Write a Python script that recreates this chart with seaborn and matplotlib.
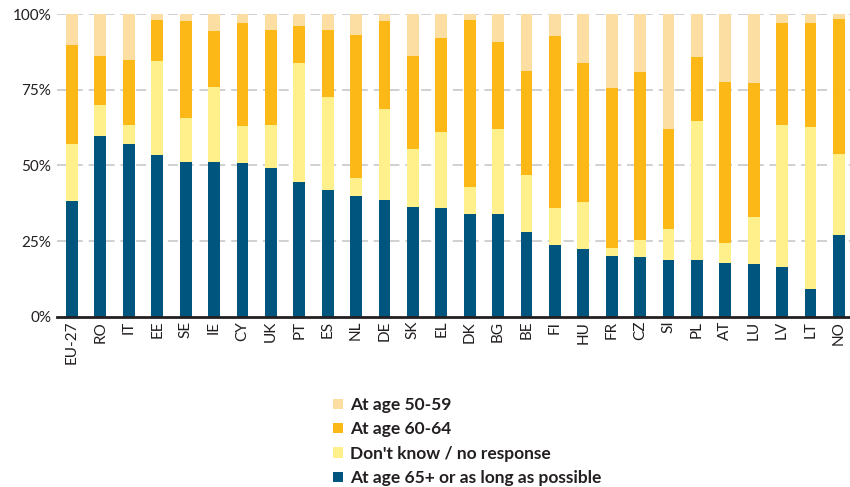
import matplotlib
matplotlib.use("Agg")
import matplotlib.pyplot as plt
import seaborn as sns
import numpy as np
import pandas as pd
from matplotlib.patches import Patch
from matplotlib.ticker import FixedLocator

countries = ["EU-27", "RO", "IT", "EE", "SE", "IE", "CY", "UK", "PT", "ES", "NL", "DE",
             "SK", "EL", "DK", "BG", "BE", "FI", "HU", "FR", "CZ", "SI", "PL", "AT",
             "LU", "LV", "LT", "NO"]
age65 = [38.2, 59.7, 57.0, 53.4, 51.1, 51.1, 50.8, 49.1, 44.5, 41.9, 39.9, 38.6,
         36.2, 35.9, 33.9, 33.9, 28.0, 23.7, 22.4, 20.0, 19.7, 18.7, 18.7, 17.7,
         17.4, 16.4, 9.1, 27.0]
dont_know = [18.8, 10.2, 6.3, 31.1, 14.5, 24.8, 12.2, 14.2, 39.3, 30.7, 5.9, 30.0,
             19.2, 25.1, 8.9, 28.1, 18.8, 12.2, 15.5, 2.7, 5.6, 10.3, 45.9, 6.6,
             15.5, 46.9, 53.6, 26.8]
age60_64 = [32.8, 16.2, 21.5, 13.5, 32.1, 18.5, 34.0, 31.4, 12.2, 22.1, 47.3, 29.1,
            30.7, 31.1, 55.2, 28.8, 34.4, 56.8, 45.9, 52.9, 55.5, 33.0, 21.2, 53.3,
            44.4, 33.7, 34.3, 44.5]
age50_59 = [10.2, 13.9, 15.2, 2.0, 2.3, 5.6, 3.0, 5.3, 4.0, 5.3, 6.9, 2.3,
            13.9, 7.9, 2.0, 9.2, 18.8, 7.3, 16.2, 24.4, 19.2, 38.0, 14.2, 22.4,
            22.7, 3.0, 3.0, 1.7]
series_labels = ["At age 50-59", "At age 60-64", "Don't know / no response",
                 "At age 65+ or as long as possible"]
ytick_labels = ["0%", "25%", "50%", "75%", "100%"]

colors = {
    "At age 50-59": "#fddea2",
    "At age 60-64": "#fbb817",
    "Don't know / no response": "#fff08c",
    "At age 65+ or as long as possible": "#00557f",
}

font = "Lato"
sns.set_theme(style="white")
plt.rcParams["font.family"] = [font, "DejaVu Sans"]

df = pd.DataFrame({
    "country": countries,
    "a65": age65,
    "dk": dont_know,
    "a60": age60_64,
    "a50": age50_59,
})
df["c_dark"] = df["a65"]
df["c_dk"] = df["a65"] + df["dk"]
df["c_60"] = df["c_dk"] + df["a60"]
df["c_50"] = df["c_60"] + df["a50"]

fig = plt.figure(figsize=(8.5, 4.87), dpi=100)
ax = fig.add_axes([57 / 850, 1 - 316.7 / 487, 1 - 57 / 850, (316.7 - 14) / 487])

layers = [("c_50", series_labels[0]), ("c_60", series_labels[1]),
          ("c_dk", series_labels[2]), ("c_dark", series_labels[3])]
for col, lab in layers:
    sns.barplot(data=df, x="country", y=col, color=colors[lab], saturation=1,
                width=0.42, ax=ax, linewidth=0, zorder=3)

ax.set_xlim(-0.53, len(countries) - 1 + 0.39)
ax.set_ylim(0, 100)
ax.set_yticks([0, 25, 50, 75, 100])
ax.set_yticklabels(ytick_labels, fontsize=11, color="#231f20")
ax.set_xlabel("")
ax.set_ylabel("")
ax.set_xticks(range(len(countries)))
ax.set_xticklabels(countries, rotation=90, fontsize=11, color="#231f20")

for y in [25, 50, 75, 100]:
    ax.axhline(y, color="#c8c8c8", lw=1.2, dashes=(6, 3.5), zorder=1)

for s in ["top", "right", "left"]:
    ax.spines[s].set_visible(False)
ax.spines["bottom"].set_color("#231f20")
ax.spines["bottom"].set_linewidth(2)
ax.spines["bottom"].set_zorder(5)

ax.tick_params(axis="x", which="major", length=0, pad=3)
ax.tick_params(axis="y", which="major", length=0, pad=4)
ax.xaxis.set_minor_locator(FixedLocator(np.arange(-0.5, len(countries), 1.0)))
ax.tick_params(axis="x", which="minor", length=4, width=1.5, color="#231f20", direction="out")
ax.grid(False)

handles = [Patch(facecolor=colors[l], edgecolor="none") for l in series_labels]
leg = fig.legend(handles, series_labels, loc="upper left",
                 bbox_to_anchor=(333 / 850, 1 - 397 / 487), frameon=False,
                 prop={"family": [font, "DejaVu Sans"], "weight": "bold", "size": 12.5},
                 handlelength=0.55, handleheight=0.55, handletextpad=0.45,
                 labelspacing=0.48, borderaxespad=0, borderpad=0)
for t in leg.get_texts():
    t.set_color("#231f20")

fig.savefig("out.png", dpi=100)
